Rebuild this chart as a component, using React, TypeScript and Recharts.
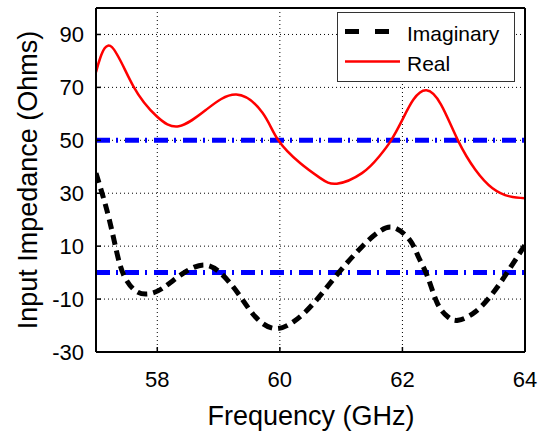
import React from 'react';
import { LineChart, Line, XAxis, YAxis, CartesianGrid, ReferenceLine, Legend, Label } from 'recharts';

const realFreq = [57.0, 57.07, 57.26, 57.61, 57.99, 58.35, 58.8, 59.29, 59.72, 59.97, 60.33, 60.66, 60.93, 61.34, 61.62, 61.81, 62.0, 62.18, 62.39, 62.63, 62.91, 63.19, 63.47, 63.75, 64.0];
const realOhms = [75.7, 81.2, 85.2, 70.4, 59.1, 55.3, 61.6, 67.3, 60.3, 50.2, 41.4, 35.7, 33.6, 37.6, 43.9, 49.8, 57.8, 65.4, 68.9, 63.5, 49.8, 38.9, 31.9, 28.8, 28.1];

const imagFreq = [57.0, 57.19, 57.33, 57.45, 57.63, 57.83, 58.08, 58.42, 58.76, 59.04, 59.32, 59.6, 59.91, 60.22, 60.55, 60.95, 61.34, 61.62, 61.86, 62.12, 62.26, 62.41, 62.57, 62.74, 62.91, 63.19, 63.47, 63.7, 64.0];
const imagOhms = [37.6, 22.5, 8.6, -0.8, -6.6, -8.1, -6, -0.3, 2.9, -0.3, -7.9, -16.7, -21.1, -18.6, -11.6, -0.3, 9.8, 15.5, 17, 12.3, 6, -1.5, -11.6, -16.7, -18, -14.8, -7.9, -0.3, 10.5];

const refLevels = [50, 0];
const freqTicks = [58, 60, 62, 64];
const ohmTicks = [-30, -10, 10, 30, 50, 70, 90];

const realData = realFreq.map((f, i) => ({ f, v: realOhms[i] }));
const imagData = imagFreq.map((f, i) => ({ f, v: imagOhms[i] }));

const FONT = 'Liberation Sans, Arial, sans-serif';
const tickStyle = { fontSize: 22, fill: '#000', fontFamily: FONT };

const renderLegend = () => (
  <svg width={178} height={70} style={{ display: 'block' }}>
    <rect x={0.5} y={0.5} width={177} height={69} fill="#fff" stroke="#333" strokeWidth={1} />
    <line x1={8} x2={52} y1={19.5} y2={19.5} stroke="#000" strokeWidth={5} strokeDasharray="14 16" />
    <text x={70} y={29} fontSize={21} fontFamily={FONT} fill="#000">Imaginary</text>
    <line x1={8} x2={63} y1={49.5} y2={49.5} stroke="#ff0000" strokeWidth={2.5} />
    <text x={70} y={59} fontSize={21} fontFamily={FONT} fill="#000">Real</text>
  </svg>
);

export default function App() {
  return (
    <div style={{ position: 'absolute', left: 0, top: 0, background: '#fff' }}>
      <LineChart width={541} height={437} margin={{ top: 7, right: 15, left: 0, bottom: 0 }}>
        <CartesianGrid stroke="#000" strokeWidth={1} strokeDasharray="1 3" />
        <XAxis
          type="number"
          dataKey="f"
          domain={[57, 64]}
          ticks={freqTicks}
          allowDataOverflow
          height={85}
          axisLine={{ stroke: '#000', strokeWidth: 2 }}
          tickLine={{ stroke: '#000', strokeWidth: 1.5 }}
          tickSize={-5}
          tickMargin={24}
          tick={tickStyle}
        >
          <Label
            content={() => (
              <text x={311} y={416} textAnchor="middle" dominantBaseline="central" fontSize={27} fontFamily={FONT} fill="#000">
                Frequency (GHz)
              </text>
            )}
          />
        </XAxis>
        <XAxis
          xAxisId="top"
          orientation="top"
          type="number"
          domain={[57, 64]}
          ticks={freqTicks}
          height={1}
          axisLine={{ stroke: '#000', strokeWidth: 2 }}
          tickLine={{ stroke: '#000', strokeWidth: 1.5 }}
          tickSize={-5}
          tick={false}
        />
        <YAxis
          type="number"
          domain={[-30, 100]}
          ticks={ohmTicks}
          allowDataOverflow
          width={96}
          axisLine={{ stroke: '#000', strokeWidth: 2 }}
          tickLine={{ stroke: '#000', strokeWidth: 1.5 }}
          tickSize={-5}
          tickMargin={17}
          tick={tickStyle}
        >
          <Label
            content={() => (
              <text x={28} y={180} transform="rotate(-90 28 180)" textAnchor="middle" dominantBaseline="central" fontSize={27} fontFamily={FONT} fill="#000">
                Input Impedance (Ohms)
              </text>
            )}
          />
        </YAxis>
        <YAxis
          yAxisId="right"
          orientation="right"
          type="number"
          domain={[-30, 100]}
          ticks={ohmTicks}
          width={1}
          axisLine={{ stroke: '#000', strokeWidth: 2 }}
          tickLine={{ stroke: '#000', strokeWidth: 1.5 }}
          tickSize={-5}
          tick={false}
        />
        {refLevels.map((y) => (
          <ReferenceLine key={y} y={y} stroke="#0000ff" strokeWidth={5} strokeDasharray="14 6 2 7" />
        ))}
        <Line data={realData} dataKey="v" type="natural" stroke="#ff0000" strokeWidth={2.5} dot={false} isAnimationActive={false} />
        <Line data={imagData} dataKey="v" type="natural" stroke="#000" strokeWidth={5} strokeDasharray="10 6" dot={false} isAnimationActive={false} />
        <Legend
          layout="vertical"
          align="center"
          verticalAlign="middle"
          content={renderLegend}
          wrapperStyle={{ left: 337, top: 12, width: 178, height: 70 }}
        />
      </LineChart>
    </div>
  );
}
